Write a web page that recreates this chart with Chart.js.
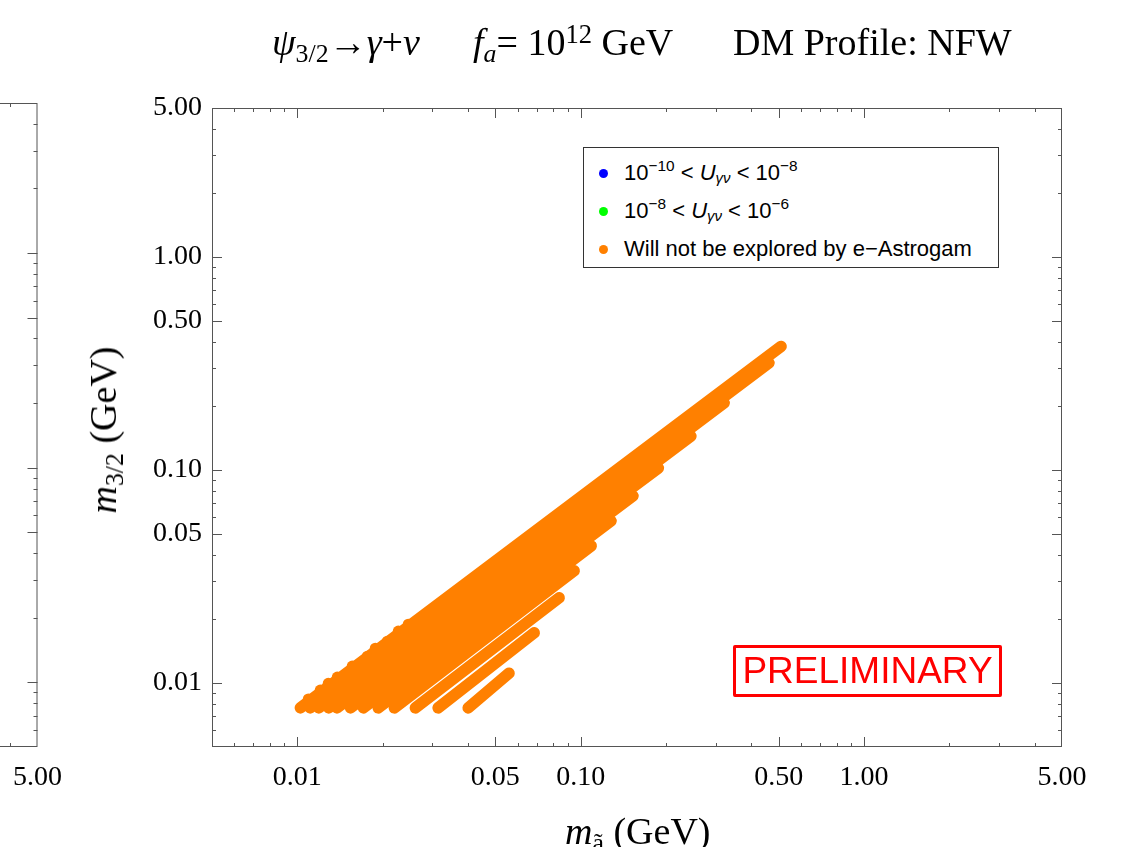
<!DOCTYPE html>
<html>
<head>
<meta charset="utf-8">
<script src="https://cdn.jsdelivr.net/npm/chart.js@4.4.1/dist/chart.umd.min.js"></script>
<style>
  html, body { margin: 0; padding: 0; background: #fff; }
  body { width: 1123px; height: 847px; position: relative; overflow: hidden; font-family: 'Liberation Serif', 'Times New Roman', serif; }
  canvas { position: absolute; top: 0; }
  #main { left: 0; }
  #side { left: -854px; }
  .t { position: absolute; white-space: nowrap; line-height: 1; color: #000; }
  .serif { font-family: 'Liberation Serif', serif; font-size: 38px; }
  .sub { font-size: 0.68em; position: relative; top: 0.28em; }
  .sup { font-size: 0.7em; position: relative; top: -0.45em; }
  #legend { position: absolute; left: 583px; top: 147px; width: 414px; height: 119px; border: 1px solid #333; background: #fff; font-family: 'Liberation Sans', Arial, sans-serif; font-size: 22px; }
  .item { position: absolute; left: 0; height: 30px; display: flex; align-items: center; white-space: pre; }
  .dot { width: 9px; height: 9px; border-radius: 50%; margin-left: 15px; margin-right: 16px; }
  #prelim { position: absolute; left: 733px; top: 645px; width: 263px; height: 46px; border: 3px solid #ff0000; border-radius: 2px; display: flex; align-items: center; justify-content: center; color: #ff0000; font-family: 'Liberation Sans', Arial, sans-serif; font-size: 37px; }
</style>
</head>
<body>
<canvas id="side" width="930" height="847"></canvas>
<canvas id="main" width="1123" height="847"></canvas>

<div class="t serif" style="left:272px; top:23px;"><i>ψ</i><span class="sub">3/2</span>→<i>γ</i>+<i>ν</i></div>
<div class="t serif" style="left:473px; top:23px;"><i>f</i><span class="sub"><i>a</i></span>= 10<span class="sup">12</span> GeV</div>
<div class="t serif" style="left:733px; top:23px;">DM Profile: NFW</div>

<div class="t serif" style="left:103px; top:430px; transform: translate(-50%, -50%) rotate(-90deg);"><i>m</i><span class="sub">3/2</span> (GeV)</div>
<div class="t serif" style="left:565px; top:812px;"><i>m</i><span class="sub">ã</span> (GeV)</div>

<div id="legend">
  <div class="item" style="top:10px;"><span class="dot" style="background:#0000ff"></span>10<span class="sup">−10</span> &lt; <i>U</i><span class="sub"><i>γν</i></span> &lt; 10<span class="sup">−8</span></div>
  <div class="item" style="top:48px;"><span class="dot" style="background:#00ff00"></span>10<span class="sup">−8</span> &lt; <i>U</i><span class="sub"><i>γν</i></span> &lt; 10<span class="sup">−6</span></div>
  <div class="item" style="top:86px;"><span class="dot" style="background:#ff8000"></span>Will not be explored by e−Astrogam</div>
</div>

<div id="prelim">PRELIMINARY</div>

<script>
// axis range and ticks (both axes share them)
const axisMin = 0.005;
const axisMax = 5;
const majorTicks = [0.01, 0.05, 0.1, 0.5, 1, 5];
const minorTicks = [0.006, 0.007, 0.008, 0.009, 0.02, 0.03, 0.04, 0.06, 0.07, 0.08, 0.09,
                    0.2, 0.3, 0.4, 0.6, 0.7, 0.8, 0.9, 2, 3, 4];

// orange bands: start / end of each strip of points (m_a, m_3/2 in GeV)
const bandStartX = [0.01025, 0.0111, 0.0119, 0.0129, 0.0138, 0.0154, 0.0171, 0.0193, 0.0220, 0.0261, 0.0314, 0.0401];
const bandStartY = [0.00763, 0.00763, 0.00763, 0.00763, 0.00763, 0.00763, 0.00763, 0.00763, 0.00763, 0.00763, 0.00763, 0.00763];
const bandEndX = [0.51, 0.462, 0.321, 0.245, 0.188, 0.153, 0.128, 0.109, 0.0949, 0.084, 0.0686, 0.0559];
const bandEndY = [0.38, 0.318, 0.206, 0.144, 0.102, 0.0755, 0.0576, 0.044, 0.0336, 0.0251, 0.0172, 0.0111];

// loose points sticking out of the upper-left edge
const edgeDotX = [0.01094, 0.01205, 0.01286, 0.01384, 0.01563, 0.01766, 0.01885, 0.02078, 0.02272, 0.02464];
const edgeDotY = [0.00840, 0.00925, 0.00995, 0.01065, 0.01200, 0.01335, 0.01455, 0.01570, 0.01750, 0.01885];

// the two other classes have no points in this panel
const blueX = [], blueY = [];
const greenX = [], greenY = [];

const ORANGE = '#ff8000';
const FRAME = '#555';

const framePlugin = {
  id: 'frame',
  afterDatasetsDraw(chart) {
    const { ctx, chartArea: a, scales: { x, y } } = chart;
    ctx.save();
    ctx.strokeStyle = FRAME;
    ctx.lineWidth = 1;
    ctx.strokeRect(a.left + 0.5, a.top + 0.5, a.right - a.left - 1, a.bottom - a.top - 1);
    const tick = (vals, len) => {
      ctx.beginPath();
      vals.forEach(v => {
        const px = Math.round(x.getPixelForValue(v)) + 0.5;
        if (px > a.left + 1 && px < a.right - 1) {
          ctx.moveTo(px, a.bottom); ctx.lineTo(px, a.bottom - len);
          ctx.moveTo(px, a.top); ctx.lineTo(px, a.top + len);
        }
        const py = Math.round(y.getPixelForValue(v)) + 0.5;
        if (py > a.top + 1 && py < a.bottom - 1) {
          ctx.moveTo(a.left, py); ctx.lineTo(a.left + len, py);
          ctx.moveTo(a.right, py); ctx.lineTo(a.right - len, py);
        }
      });
      ctx.stroke();
    };
    tick(majorTicks, 10);
    tick(minorTicks, 4);
    ctx.restore();
  }
};

function logAxis(showLabels, size, pad) {
  return {
    type: 'logarithmic',
    min: axisMin,
    max: axisMax,
    grid: { display: false, drawTicks: false },
    border: { display: false },
    afterBuildTicks: s => { s.ticks = majorTicks.map(v => ({ value: v })); },
    afterFit: s => { if (s.isHorizontal()) s.height = size; else s.width = size; },
    ticks: {
      display: showLabels,
      autoSkip: false,
      maxRotation: 0,
      padding: pad,
      color: '#000',
      font: { family: 'Liberation Serif', size: 28 },
      callback: v => Number(v).toFixed(2)
    }
  };
}

const datasets = [
  { label: 'blue', data: blueX.map((v, i) => ({ x: v, y: blueY[i] })), pointRadius: 5.5, backgroundColor: '#0000ff' },
  { label: 'green', data: greenX.map((v, i) => ({ x: v, y: greenY[i] })), pointRadius: 5.5, backgroundColor: '#00ff00' }
];
bandStartX.forEach((sx, i) => {
  datasets.push({
    label: 'band' + i,
    data: [{ x: sx, y: bandStartY[i] }, { x: bandEndX[i], y: bandEndY[i] }],
    showLine: true,
    borderColor: ORANGE,
    borderWidth: 11.5,
    borderCapStyle: 'round',
    pointRadius: 0
  });
});
datasets.push({
  label: 'edge',
  data: edgeDotX.map((v, i) => ({ x: v, y: edgeDotY[i] })),
  pointRadius: 5.5,
  borderWidth: 0,
  backgroundColor: ORANGE
});

const common = {
  responsive: false,
  animation: false,
  events: [],
  plugins: { legend: { display: false }, tooltip: { enabled: false } }
};

new Chart(document.getElementById('main'), {
  type: 'scatter',
  data: { datasets },
  options: {
    ...common,
    layout: { padding: { top: 108, right: 61, left: 0, bottom: 0 } },
    scales: { x: logAxis(true, 100, 14), y: logAxis(true, 212, 10) }
  },
  plugins: [framePlugin]
});

// neighbouring panel, only its right edge is inside the picture
new Chart(document.getElementById('side'), {
  type: 'scatter',
  data: { datasets: [] },
  options: {
    ...common,
    layout: { padding: { top: 103, right: 30, left: 0, bottom: 0 } },
    scales: { x: logAxis(true, 100, 14), y: logAxis(false, 50, 10) }
  },
  plugins: [framePlugin]
});
</script>
</body>
</html>
